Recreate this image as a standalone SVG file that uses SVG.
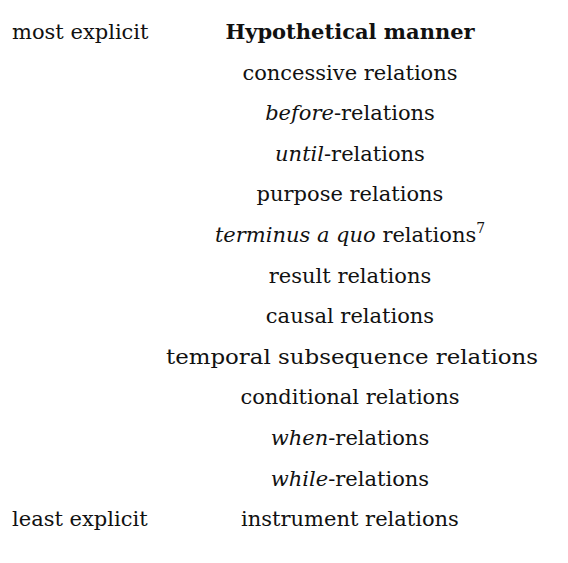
<svg xmlns="http://www.w3.org/2000/svg" width="568" height="563" viewBox="0 0 568 563">
<style>
text { font-family: "DejaVu Serif", "Liberation Serif", serif; font-size: 21px; fill: #111; }
.c { text-anchor: middle; }
.b { font-weight: bold; }
.i { font-style: italic; }
.sup { font-size: 14px; }
</style>
<rect width="568" height="563" fill="#fff"/>
<g id="scale">
<text x="12" y="39">most explicit</text>
<text x="12" y="526">least explicit</text>
</g>
<g id="relations">
<text class="c b" x="350" y="39">Hypothetical manner</text>
<text class="c" x="350" y="79.6">concessive relations</text>
<text class="c" x="350" y="120.2"><tspan class="i">before</tspan>-relations</text>
<text class="c" x="350" y="160.8"><tspan class="i">until</tspan>-relations</text>
<text class="c" x="350" y="201.4">purpose relations</text>
<text class="c" x="350" y="242"><tspan class="i">terminus a quo</tspan> relations<tspan class="sup" dy="-9">7</tspan></text>
<text class="c" x="350" y="282.6">result relations</text>
<text class="c" x="350" y="323.2">causal relations</text>
<text class="c" x="352" y="363.8" textLength="372" lengthAdjust="spacingAndGlyphs">temporal subsequence relations</text>
<text class="c" x="350" y="404.4">conditional relations</text>
<text class="c" x="350" y="445"><tspan class="i">when</tspan>-relations</text>
<text class="c" x="350" y="485.6"><tspan class="i">while</tspan>-relations</text>
<text class="c" x="350" y="526.2">instrument relations</text>
</g>
</svg>
